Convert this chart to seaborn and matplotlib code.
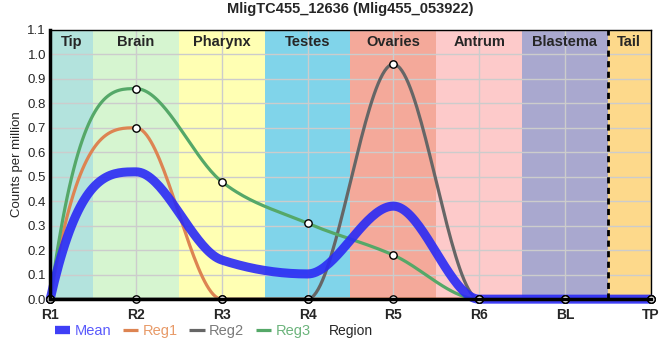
import numpy as np
import pandas as pd
import seaborn as sns
import matplotlib
matplotlib.use("Agg")
import matplotlib.pyplot as plt

# data
regions = ['R1', 'R2', 'R3', 'R4', 'R5', 'R6', 'BL', 'TP']
mean_vals = [0.0, 0.52, 0.16, 0.103, 0.38, 0.0, 0.0, 0.0]
reg1_vals = [0.0, 0.70, 0.0, 0.0, 0.0, 0.0, 0.0, 0.0]
reg2_vals = [0.0, 0.0, 0.0, 0.0, 0.96, 0.0, 0.0, 0.0]
reg3_vals = [0.0, 0.86, 0.48, 0.31, 0.18, 0.0, 0.0, 0.0]

band_names = ['Tip', 'Brain', 'Pharynx', 'Testes', 'Ovaries', 'Antrum', 'Blastema', 'Tail']
band_colors = ['#b3e3dd', '#d6f5d0', '#ffffb3', '#80d4ea', '#f4a99a', '#fdcaca', '#a9a8cf', '#fdd98b']

series = {'Mean': mean_vals, 'Reg1': reg1_vals, 'Reg2': reg2_vals, 'Reg3': reg3_vals}
colors = {'Mean': '#2a2af5', 'Reg1': '#dd8452', 'Reg2': '#666666', 'Reg3': '#55a868'}
text_colors = {'Mean': '#5a5afc', 'Reg1': '#e89a68', 'Reg2': '#7a7a7a', 'Reg3': '#6cb47c'}


def monotone_curve(y, n=40):
    """Monotone cubic through points at x=0..len(y)-1 (flat at extremes)."""
    y = np.asarray(y, dtype=float)
    k = len(y)
    s = np.diff(y)
    t = np.zeros(k)
    for i in range(1, k - 1):
        s0, s1 = s[i - 1], s[i]
        p = (s0 + s1) / 2
        t[i] = (np.sign(s0) + np.sign(s1)) * min(abs(s0), abs(s1), 0.5 * abs(p))
    t[0] = 3 * s[0] - 2 * t[1]
    t[-1] = 3 * s[-1] - 2 * t[-2]
    xs, ys = [], []
    for i in range(k - 1):
        u = np.linspace(0, 1, n, endpoint=(i == k - 2))
        h00 = 2 * u**3 - 3 * u**2 + 1
        h10 = u**3 - 2 * u**2 + u
        h01 = -2 * u**3 + 3 * u**2
        h11 = u**3 - u**2
        xs.append(i + u)
        ys.append(h00 * y[i] + h10 * t[i] + h01 * y[i + 1] + h11 * t[i + 1])
    return np.concatenate(xs), np.concatenate(ys)


rows = []
for name, vals in series.items():
    xs, ys = monotone_curve(vals)
    rows.append(pd.DataFrame({'x': xs, 'y': ys, 'series': name}))
curves = pd.concat(rows, ignore_index=True)

points = pd.concat([pd.DataFrame({'x': np.arange(len(regions)), 'y': v, 'series': n})
                    for n, v in series.items() if n != 'Mean'], ignore_index=True)

sns.set_style('white')
plt.rcParams['font.family'] = ['Liberation Sans', 'DejaVu Sans']

fig = plt.figure(figsize=(6.6, 3.6), dpi=100)
ax = fig.add_axes([0.076, 0.169, 0.910, 0.748])

for i, (bn, bc) in enumerate(zip(band_names, band_colors)):
    lo = 0 if i == 0 else i - 0.5
    hi = 0.5 if i == 0 else min(i + 0.5, len(regions) - 1)
    ax.axvspan(lo, hi, color=bc, lw=0, zorder=0)
    ax.text((lo + hi) / 2, 1.05, bn, ha='center', va='center', fontsize=10.5,
            fontweight='bold', zorder=5)

for yv in np.arange(0, 1.11, 0.1):
    ax.axhline(yv, color='#cccccc', lw=1, zorder=1)
for xv in range(len(regions)):
    ax.axvline(xv, color='#cccccc', lw=1, zorder=1)

ax.axvline(6.5, color='black', lw=2, ls=(0, (2.2, 1.6)), zorder=6)

sns.lineplot(data=curves[curves.series != 'Mean'], x='x', y='y', hue='series',
             palette=colors, lw=2.3, ax=ax, legend=False, sort=False, zorder=3, clip_on=False)
sns.lineplot(data=curves[curves.series == 'Mean'], x='x', y='y', color=colors['Mean'],
             lw=6.5, alpha=0.9, ax=ax, legend=False, sort=False, zorder=4, clip_on=False)
sns.scatterplot(data=points, x='x', y='y', color='white', edgecolor='black',
                linewidth=1, s=28, ax=ax, legend=False, zorder=7, clip_on=False)

ax.set_xlim(0, len(regions) - 1)
ax.set_ylim(0, 1.1)
ax.set_xticks(range(len(regions)))
ax.set_xticklabels(regions)
ax.set_yticks(np.round(np.arange(0, 1.11, 0.1), 1))
ax.set_yticklabels([f'{v:.1f}' for v in np.arange(0, 1.11, 0.1)])
ax.tick_params(axis='y', labelsize=9.5, length=2, width=1, direction='out', pad=1)
ax.tick_params(axis='x', labelsize=10, length=7, width=1, direction='inout', pad=3)
for lab in ax.get_xticklabels():
    lab.set_fontweight('bold')

for side in ['left', 'bottom']:
    ax.spines[side].set_linewidth(2.5)
    ax.spines[side].set_color('black')
    ax.spines[side].set_zorder(8)
for side in ['top', 'right']:
    ax.spines[side].set_linewidth(1)
    ax.spines[side].set_color('black')

ax.set_xlabel('')
ax.set_ylabel('Counts per million', fontsize=9.5)
ax.yaxis.set_label_coords(-0.046, 0.5)
ax.set_title('MligTC455_12636 (Mlig455_053922)', fontsize=10.5, fontweight='bold', pad=12)

handles = [plt.Line2D([], [], color=colors['Mean'], lw=6, alpha=0.9, solid_capstyle='butt')] + \
          [plt.Line2D([], [], color=colors[n], lw=2.3, solid_capstyle='butt')
           for n in ['Reg1', 'Reg2', 'Reg3']]
leg = fig.legend(handles, list(series.keys()), loc='center left', bbox_to_anchor=(0.083, 0.08),
                 ncol=4, frameon=False, fontsize=10.5, handlelength=1.05, columnspacing=0.8,
                 handletextpad=0.3, borderpad=0, borderaxespad=0)
for txt, name in zip(leg.get_texts(), series.keys()):
    txt.set_color(text_colors[name])
fig.text(0.532, 0.08, 'Region', ha='center', va='center', fontsize=10)

fig.savefig('out.png', dpi=100)
